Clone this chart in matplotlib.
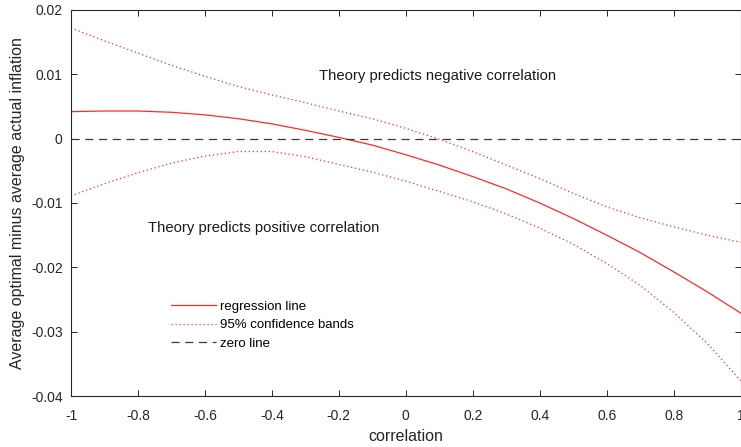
import matplotlib
matplotlib.use("Agg")
import matplotlib.pyplot as plt
from matplotlib.ticker import FixedLocator, FuncFormatter

plt.rcParams['font.family'] = ['Liberation Sans', 'DejaVu Sans']

correlation = [-1.0, -0.9, -0.8, -0.7, -0.6, -0.5, -0.4, -0.3, -0.2, -0.1, 0.0,
               0.1, 0.2, 0.3, 0.4, 0.5, 0.6, 0.7, 0.8, 0.9, 1.0]
regression = [0.0042, 0.0043, 0.0043, 0.0041, 0.0037, 0.0031, 0.0023, 0.0013, 0.0002,
              -0.0010, -0.0025, -0.0041, -0.0059, -0.0078, -0.0100, -0.0124, -0.0150,
              -0.0177, -0.0207, -0.0238, -0.0271]
upper_band = [0.0172, 0.0152, 0.0133, 0.0114, 0.0097, 0.0081, 0.0068, 0.0056, 0.0043,
              0.0031, 0.0016, -0.0001, -0.0020, -0.0041, -0.0062, -0.0085, -0.0106,
              -0.0123, -0.0137, -0.0150, -0.0161]
lower_band = [-0.0089, -0.0070, -0.0053, -0.0038, -0.0027, -0.0020, -0.0020, -0.0028,
              -0.0040, -0.0052, -0.0066, -0.0082, -0.0098, -0.0117, -0.0139, -0.0164,
              -0.0194, -0.0228, -0.0270, -0.0318, -0.0376]
zero_x = [-1.0, 1.0]
zero_y = [0.0, 0.0]
x_ticks = [-1, -0.8, -0.6, -0.4, -0.2, 0, 0.2, 0.4, 0.6, 0.8, 1]
y_ticks = [-0.04, -0.03, -0.02, -0.01, 0, 0.01, 0.02]

fig = plt.figure(figsize=(7.41, 4.47), dpi=100)
ax = fig.add_axes([71/741, 1 - 396/447, 1 - 71/741 - 0.0005, (396 - 10)/447])

red = '#ff2a2a'
ax.plot(correlation, regression, color=red, lw=0.9, label='regression line')
ax.plot(correlation, upper_band, color=red, lw=0.9, ls=(0, (1, 2.2)),
        label='95% confidence bands')
ax.plot(zero_x, zero_y, color='#3a3a3a', lw=0.9, ls=(0, (6.5, 4.5)), label='zero line')
ax.plot(correlation, lower_band, color=red, lw=0.9, ls=(0, (1, 2.2)))

ax.set_xlim(-1, 1)
ax.set_ylim(-0.04, 0.02)
fmt = FuncFormatter(lambda v, p: '%g' % round(v, 6))
ax.xaxis.set_major_locator(FixedLocator(x_ticks))
ax.yaxis.set_major_locator(FixedLocator(y_ticks))
ax.xaxis.set_major_formatter(fmt)
ax.yaxis.set_major_formatter(fmt)
ax.tick_params(direction='in', length=4, width=0.7, top=True, right=True,
               labelsize=10, colors='#262626')
ax.tick_params(axis='x', pad=9)
ax.tick_params(axis='y', pad=6)
for s in ax.spines.values():
    s.set_color('#262626')
    s.set_linewidth(0.8)

ax.set_xlabel('correlation', fontsize=11.5, color='#262626', labelpad=5)
ax.set_ylabel('Average optimal minus average actual inflation', fontsize=11.5,
              color='#262626', labelpad=4)

ax.text(0.0955, 0.00975, 'Theory predicts negative correlation', fontsize=10.7,
        ha='center', va='center', color='#1a1a1a')
ax.text(-0.77, -0.0139, 'Theory predicts positive correlation', fontsize=10.7,
        ha='left', va='center', color='#1a1a1a')

ax.legend(loc='upper left', bbox_to_anchor=(0.150, 0.247), frameon=False,
          fontsize=9.5, borderpad=0, borderaxespad=0, handlelength=3.4,
          handletextpad=0.3, labelspacing=0.48)

fig.savefig('out.png', dpi=100)
